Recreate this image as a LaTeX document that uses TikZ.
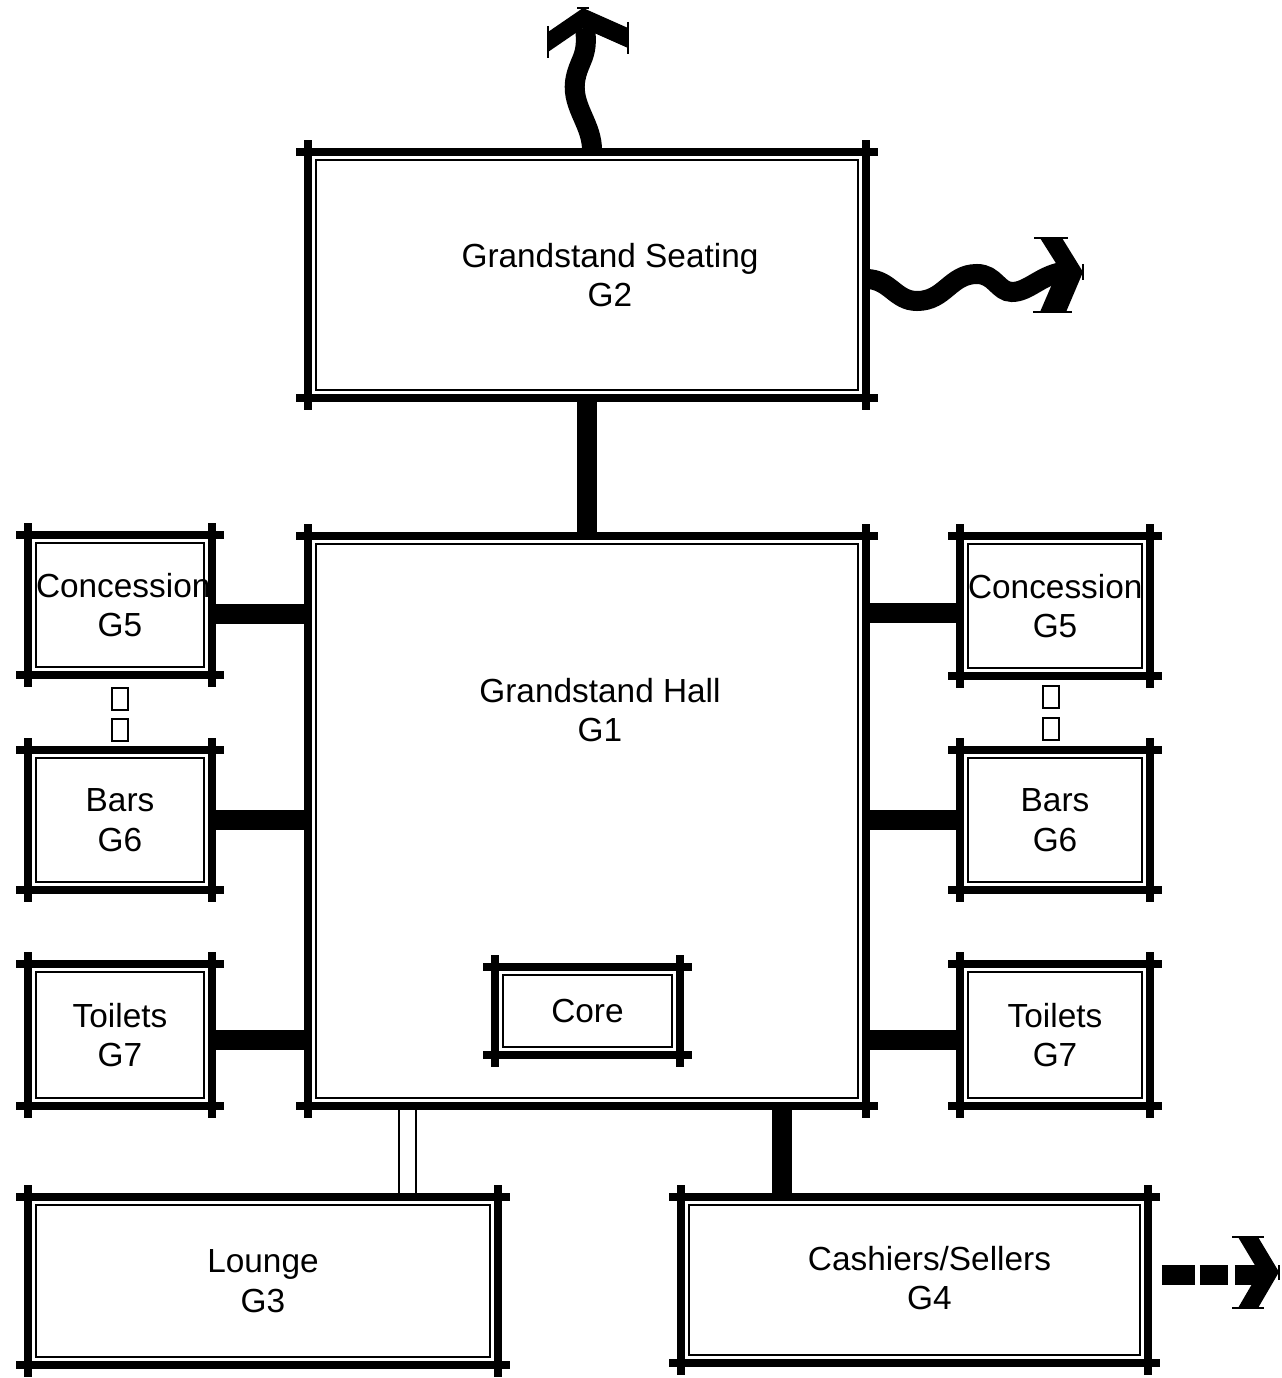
\documentclass[tikz,border=0pt]{standalone}
\usepackage{fontspec}
\setmainfont{Liberation Sans}
\usetikzlibrary{arrows.meta,positioning}

\begin{document}
\begin{tikzpicture}[
    x=0.02cm, y=0.02cm,
    room/.style={draw, line width=1pt, inner sep=0pt, outer sep=0pt, align=center, font=\fontsize{19}{22.5}\selectfont},
    roomtext/.style={align=center, inner sep=0pt, font=\fontsize{19}{22.5}\selectfont},
    frame/.style={line width=0.16cm},
    bar/.style={line width=0.4cm, shorten <=0.16cm, shorten >=0.16cm},
    hollow/.style={double, line width=1pt, double distance=0.3cm, shorten <=0.16cm, shorten >=0.16cm},
    gapsq/.style={draw, line width=1pt, minimum width=0.32cm, minimum height=0.44cm, inner sep=0pt},
    wave/.style={line width=0.4cm},
    tick/.style={line width=1.2pt}
  ]
    \path[fill=white] (0,0) rectangle (1281,-1378);
    \useasboundingbox (0,0) rectangle (1281,-1378);

    % rooms (inner outline)
    \node[room, text width=10.84cm, minimum height=4.6cm] (g2) at (587,-275) {};
    \node[roomtext] (g2text) at ([shift={(23,0)}]g2.center) {Grandstand Seating\\G2};
    \node[room, text width=10.84cm, minimum height=11.08cm] (g1) at (587,-821) {};
    \node[roomtext] (g1text) at ([shift={(13,111)}]g1.center) {Grandstand Hall\\G1};
    \node[room, text width=3.38cm, minimum height=1.44cm] (core) at (587.5,-1011) {Core};
    \node[room, text width=3.36cm, minimum height=2.48cm] (g5l) at (120,-605) {Concession\\G5};
    \node[room, text width=3.36cm, minimum height=2.48cm] (g6l) at (120,-820) {Bars\\G6};
    \node[room, text width=3.36cm, minimum height=2.52cm] (g7l) at (120,-1035) {Toilets\\G7};
    \node[room, text width=3.48cm, minimum height=2.48cm] (g5r) at (1055,-606) {Concession\\G5};
    \node[room, text width=3.48cm, minimum height=2.48cm] (g6r) at (1055,-820) {Bars\\G6};
    \node[room, text width=3.48cm, minimum height=2.52cm] (g7r) at (1055,-1035) {Toilets\\G7};
    \node[room, text width=9.08cm, minimum height=3.04cm] (g3) at (263,-1281) {Lounge\\G3};
    \node[room, text width=9.02cm, minimum height=3cm] (g4) at (914.5,-1280) {};
    \node[roomtext] (g4text) at ([shift={(15,2)}]g4.center) {Cashiers/Sellers\\G4};

    % links
    \draw[bar] (g2.south) -- (g1.north);
    \draw[bar] ([yshift=-0.18cm]g5l.east) -- ([yshift=-0.18cm]g5l.east -| g1.west);
    \draw[bar] (g6l.east) -- (g6l.east -| g1.west);
    \draw[bar] ([yshift=-0.1cm]g7l.east) -- ([yshift=-0.1cm]g7l.east -| g1.west);
    \draw[bar] ([yshift=-0.14cm]g5r.west) -- ([yshift=-0.14cm]g5r.west -| g1.east);
    \draw[bar] (g6r.west) -- (g6r.west -| g1.east);
    \draw[bar] ([yshift=-0.1cm]g7r.west) -- ([yshift=-0.1cm]g7r.west -| g1.east);
    \draw[hollow] ([xshift=2.89cm]g3.north) -- ([xshift=2.89cm]g3.north |- g1.south);
    \draw[bar] ([xshift=-2.65cm]g4.north) -- ([xshift=-2.65cm]g4.north |- g1.south);
    \path (g5l.south) -- (g6l.north) node[gapsq, pos=0.35] (sq5l) {} node[gapsq, pos=0.69] (sq6l) {};
    \path (g5r.south) -- (g6r.north) node[gapsq, pos=0.32, xshift=-0.08cm] (sq5r) {} node[gapsq, pos=0.68, xshift=-0.08cm] (sq6r) {};

    % exits
    \coordinate (exitN) at (585,-28);
    \coordinate (exitE) at (1062,-272);
    \coordinate (exitS) at (1260,-1275);
    \draw[wave] ([shift={(5,8)}]g2.north) .. controls (593,-125) and (572,-108) .. (575,-82)
      .. controls (578,-60) and (589,-58) .. (exitN);
    \fill (548,-32) -- (583,-8) -- (628,-28) -- (628,-48) -- (583,-28) -- (548,-52) -- cycle;
    \draw[tick] (548,-26) -- (548,-58) (628,-22) -- (628,-54) (577,-8) -- (589,-8);
    \draw[wave] ([shift={(8,-4)}]g2.east) .. controls (890,-279) and (895,-301) .. (917,-301)
      .. controls (945,-301) and (950,-274) .. (977,-274)
      .. controls (995,-274) and (998,-292) .. (1012,-292)
      .. controls (1028,-292) and (1040,-276) .. (exitE);
    \fill (1040,-238) -- (1062,-238) -- (1083,-272) -- (1066,-312) -- (1040,-312) -- (1059,-268) -- cycle;
    \draw[tick] (1034,-238) -- (1068,-238) (1033,-312) -- (1072,-312) (1083,-264) -- (1083,-280);
    \draw[wave, dash pattern=on 0.66cm off 0.1cm on 0.56cm off 0.14cm on 1cm] ([shift={(22,5)}]g4.east) -- (exitS);
    \fill (1238,-1237) -- (1258,-1237) -- (1279,-1272) -- (1258,-1308) -- (1238,-1308) -- (1259,-1272) -- cycle;
    \draw[tick] (1232,-1237) -- (1264,-1237) (1232,-1308) -- (1264,-1308) (1279,-1265) -- (1279,-1280);

    % outer walls
    \foreach \room in {g2,g1,core,g5l,g6l,g7l,g5r,g6r,g7r,g3,g4} {
      \draw[frame] ([shift={(-20,8)}]\room.north west) -- ([shift={(20,8)}]\room.north east);
      \draw[frame] ([shift={(-20,-8)}]\room.south west) -- ([shift={(20,-8)}]\room.south east);
      \draw[frame] ([shift={(-8,20)}]\room.north west) -- ([shift={(-8,-20)}]\room.south west);
      \draw[frame] ([shift={(8,20)}]\room.north east) -- ([shift={(8,-20)}]\room.south east);
    }
  \end{tikzpicture}
\end{document}
